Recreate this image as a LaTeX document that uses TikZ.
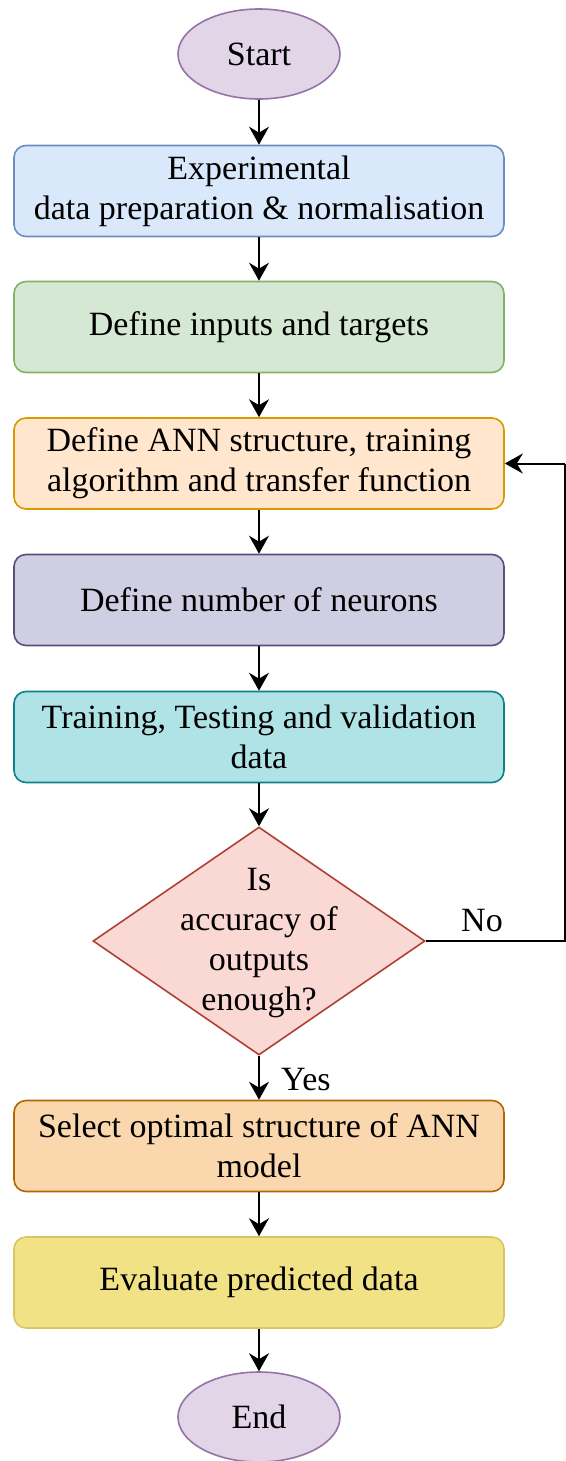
\documentclass[tikz,border=0pt]{standalone}
\usepackage{fontspec}
\setmainfont{Liberation Serif}
\usetikzlibrary{shapes.geometric,arrows.meta}
\definecolor{blueF}{HTML}{DAE8FC}\definecolor{blueD}{HTML}{6C8EBF}
\definecolor{greenF}{HTML}{D5E8D4}\definecolor{greenD}{HTML}{82B366}
\definecolor{orangeF}{HTML}{FFE6CC}\definecolor{orangeD}{HTML}{D79B00}
\definecolor{purpF}{HTML}{D0CEE2}\definecolor{purpD}{HTML}{56517E}
\definecolor{tealF}{HTML}{B0E3E6}\definecolor{tealD}{HTML}{0E8088}
\definecolor{redF}{HTML}{FAD9D5}\definecolor{redD}{HTML}{AE4132}
\definecolor{peachF}{HTML}{FAD7AC}\definecolor{peachD}{HTML}{B46504}
\definecolor{yelF}{HTML}{F0E285}\definecolor{yelD}{HTML}{D9C660}
\definecolor{termF}{HTML}{E1D5E7}\definecolor{termD}{HTML}{9673A6}
\begin{document}
\begin{tikzpicture}[x=1pt,y=-1pt,
  every node/.style={font=\fontsize{34}{40}\selectfont, text=black},
  procbox/.style={rectangle, rounded corners=12pt, line width=1.6pt, minimum width=490pt, minimum height=91pt, inner sep=0pt, align=center},
  term/.style={ellipse, line width=1.6pt, fill=termF, draw=termD, minimum width=162pt, minimum height=90pt, inner sep=0pt},
  flow/.style={line width=2pt, -{Stealth[length=18pt,width=20pt,inset=6pt]}},
  plain/.style={line width=2pt}
]
\useasboundingbox (0,0) rectangle (565,1461);
\node[term] (start) at (259,54) {Start};
\node[procbox, fill=blueF, draw=blueD] (b1) at (259,191) {Experimental\\data preparation \& normalisation};
\node[procbox, fill=greenF, draw=greenD] (b2) at (259,327) {Define inputs and targets};
\node[procbox, fill=orangeF, draw=orangeD] (b3) at (259,463.5) {Define ANN structure, training\\algorithm and transfer function};
\node[procbox, fill=purpF, draw=purpD] (b4) at (259,600) {Define number of neurons};
\node[procbox, fill=tealF, draw=tealD] (b5) at (259,737) {Training, Testing and validation\\data};
\node[diamond, fill=redF, draw=redD, line width=1.6pt, minimum width=332pt, minimum height=228pt, inner sep=0pt] (dec) at (259,941) {};
\node[align=center, inner sep=0pt] (dectext) at (259,943) {Is\\accuracy of\\outputs\\enough?};
\node[procbox, fill=peachF, draw=peachD] (b6) at (259,1146) {Select optimal structure of ANN\\model};
\node[procbox, fill=yelF, draw=yelD] (b7) at (259,1282.5) {Evaluate predicted data};
\node[term] (end) at (259,1417) {End};
\coordinate (cr) at (565,941);
\coordinate (cu) at (565,463.5);
\node[inner sep=0pt] (nolab) at (482,921) {No};
\node[inner sep=0pt, anchor=west] (yeslab) at (281,1080) {Yes};
\draw[flow] (start) -- (b1);
\draw[flow] (b1) -- (b2);
\draw[flow] (b2) -- (b3);
\draw[flow] (b3) -- (b4);
\draw[flow] (b4) -- (b5);
\draw[flow] (b5) -- (dec);
\draw[flow] (dec) -- (b6);
\draw[flow] (b6) -- (b7);
\draw[flow] (b7) -- (end);
\draw[plain] (dec.east) -- (cr) -- (cu);
\draw[flow] (cu) -- (b3.east);
\end{tikzpicture}
\end{document}
